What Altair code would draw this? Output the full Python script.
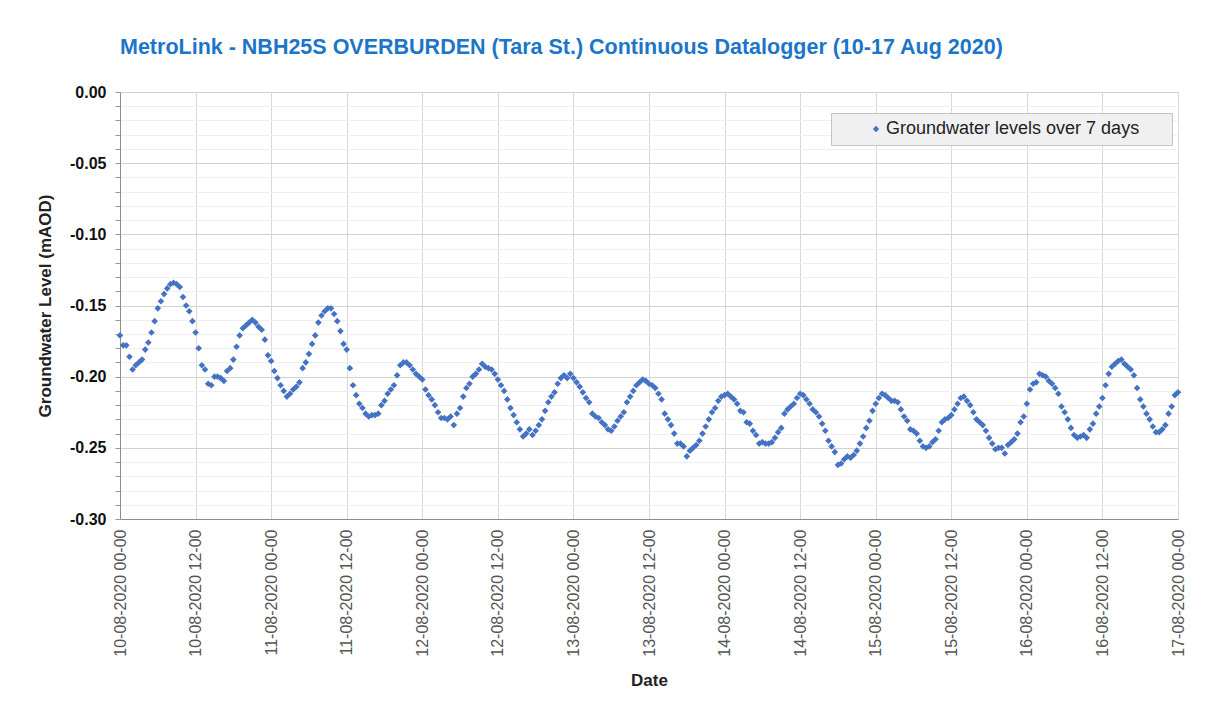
import altair as alt
import pandas as pd

TITLE = "MetroLink - NBH25S OVERBURDEN (Tara St.) Continuous Datalogger (10-17 Aug 2020)"
SERIES = "Groundwater levels over 7 days"

# Groundwater level (mAOD), one reading every 30 minutes
day1 = [-0.171, -0.178, -0.178, -0.186, -0.195, -0.192, -0.190, -0.188, -0.181, -0.176,
        -0.169, -0.161, -0.152, -0.147, -0.142, -0.138, -0.135, -0.134, -0.135, -0.137,
        -0.144, -0.150, -0.154, -0.161, -0.169, -0.180, -0.192, -0.195, -0.205, -0.206,
        -0.200, -0.200, -0.201, -0.203, -0.196, -0.194, -0.188, -0.179, -0.171, -0.166,
        -0.164, -0.162, -0.160, -0.162, -0.165, -0.167, -0.174, -0.185]
day2 = [-0.189, -0.196, -0.201, -0.206, -0.210, -0.214, -0.212, -0.209, -0.207, -0.204,
        -0.194, -0.190, -0.184, -0.177, -0.171, -0.162, -0.157, -0.154, -0.152, -0.152,
        -0.156, -0.161, -0.168, -0.177, -0.181, -0.194, -0.206, -0.213, -0.219, -0.222,
        -0.226, -0.228, -0.227, -0.227, -0.226, -0.220, -0.217, -0.212, -0.209, -0.206,
        -0.199, -0.192, -0.190, -0.190, -0.192, -0.195, -0.198, -0.200]
day3 = [-0.202, -0.209, -0.213, -0.216, -0.220, -0.225, -0.229, -0.229, -0.230, -0.228,
        -0.234, -0.226, -0.222, -0.214, -0.208, -0.205, -0.200, -0.198, -0.195, -0.191,
        -0.193, -0.194, -0.195, -0.198, -0.202, -0.206, -0.210, -0.216, -0.222, -0.227,
        -0.232, -0.237, -0.242, -0.240, -0.237, -0.241, -0.238, -0.234, -0.230, -0.224,
        -0.218, -0.214, -0.211, -0.205, -0.201, -0.199, -0.201, -0.198]
day4 = [-0.201, -0.204, -0.207, -0.211, -0.215, -0.218, -0.226, -0.228, -0.229, -0.232,
        -0.234, -0.237, -0.238, -0.235, -0.231, -0.228, -0.225, -0.218, -0.214, -0.210,
        -0.206, -0.204, -0.202, -0.203, -0.205, -0.206, -0.208, -0.212, -0.216, -0.226,
        -0.230, -0.234, -0.240, -0.247, -0.247, -0.249, -0.256, -0.252, -0.250, -0.248,
        -0.245, -0.240, -0.235, -0.230, -0.225, -0.222, -0.217, -0.214]
day5 = [-0.213, -0.212, -0.214, -0.216, -0.219, -0.224, -0.225, -0.232, -0.233, -0.238,
        -0.241, -0.247, -0.246, -0.247, -0.247, -0.246, -0.243, -0.239, -0.236, -0.226,
        -0.223, -0.221, -0.219, -0.215, -0.212, -0.213, -0.216, -0.219, -0.223, -0.225,
        -0.228, -0.233, -0.238, -0.245, -0.249, -0.253, -0.262, -0.261, -0.258, -0.256,
        -0.257, -0.255, -0.252, -0.247, -0.242, -0.236, -0.231, -0.224]
day6 = [-0.219, -0.215, -0.212, -0.213, -0.215, -0.217, -0.217, -0.218, -0.223, -0.228,
        -0.231, -0.237, -0.238, -0.240, -0.245, -0.249, -0.250, -0.249, -0.246, -0.244,
        -0.238, -0.232, -0.230, -0.229, -0.227, -0.223, -0.219, -0.215, -0.214, -0.217,
        -0.220, -0.225, -0.230, -0.232, -0.234, -0.238, -0.243, -0.247, -0.251, -0.250,
        -0.250, -0.254, -0.248, -0.246, -0.244, -0.240, -0.232, -0.228]
day7 = [-0.219, -0.209, -0.205, -0.204, -0.198, -0.199, -0.200, -0.203, -0.205, -0.208,
        -0.212, -0.221, -0.225, -0.230, -0.236, -0.241, -0.243, -0.242, -0.241, -0.243,
        -0.237, -0.233, -0.226, -0.221, -0.215, -0.206, -0.198, -0.193, -0.191, -0.189,
        -0.188, -0.191, -0.193, -0.195, -0.199, -0.208, -0.216, -0.221, -0.226, -0.230,
        -0.235, -0.239, -0.239, -0.237, -0.234, -0.226, -0.221, -0.213]
last = [-0.211]

levels = day1 + day2 + day3 + day4 + day5 + day6 + day7 + last
times = pd.date_range("2020-08-10 00:00", periods=len(levels), freq="30min").strftime("%Y-%m-%dT%H:%M:%S")
df = pd.DataFrame({"time": list(times), "level": levels, "series": SERIES})

tick_dates = [alt.DateTime(year=2020, month=8, date=10 + h // 24, hours=h % 24) for h in range(0, 169, 12)]
y_ticks = [round(-0.30 + 0.01 * k, 2) for k in range(31)]
major = "abs(round(datum.value*100)) % 5 == 0"

chart = alt.Chart(df).mark_point(shape="diamond", filled=True, size=44, opacity=1, strokeWidth=0).encode(
    x=alt.X(
        "time:T",
        scale=alt.Scale(domain=[alt.DateTime(year=2020, month=8, date=10),
                                alt.DateTime(year=2020, month=8, date=17)], nice=False),
        axis=alt.Axis(
            title="Date", values=tick_dates, format="%d-%m-%Y %H-%M", labelAngle=270,
            labelFontSize=16, labelFont="Liberation Sans", labelColor="#555555",
            labelPadding=10, ticks=False, domainColor="#8c8c8c", gridColor="#d9d9d9",
            labelOverlap=False, labelFlush=False, labelBound=False,
            titleFont="Liberation Sans", titleFontSize=17, titleFontWeight="bold",
            titleColor="#222222", titlePadding=16,
        ),
    ),
    y=alt.Y(
        "level:Q",
        scale=alt.Scale(domain=[-0.30, 0.0], nice=False, zero=False),
        axis=alt.Axis(
            title="Groundwater Level (mAOD)", values=y_ticks,
            labelExpr=f"{major} ? (datum.value < -0.0001 ? '-' : '') + format(abs(datum.value), '.2f') : ''",
            gridColor={"condition": {"test": major, "value": "#d2d2d2"}, "value": "#efefef"},
            labelFont="Liberation Sans", labelFontSize=16, labelFontWeight="bold", labelColor="#111111",
            labelPadding=9, tickSize=5, tickColor="#999999", domainColor="#8c8c8c",
            labelOverlap=False, labelFlush=False, labelBound=False,
            titleFont="Liberation Sans", titleFontSize=17, titleFontWeight="bold",
            titleColor="#222222", titlePadding=15,
        ),
    ),
    color=alt.Color(
        "series:N",
        scale=alt.Scale(range=["#4472C4"]),
        legend=alt.Legend(
            title="MM", titleOrient="right", titleOpacity=0, titleFontSize=14,
            titlePadding=2, titleFont="Liberation Sans",
            orient="none", legendX=711, legendY=21,
            fillColor="#f0f0f0", strokeColor="#c4c4c4", padding=7, cornerRadius=0,
            symbolType="diamond", symbolSize=40, symbolStrokeWidth=0,
            symbolOffset=29, labelOffset=1, labelLimit=400,
            labelFont="Liberation Sans", labelFontSize=18, labelColor="#222222",
        ),
    ),
).properties(
    width=1058,
    height=427,
    autosize=alt.AutoSizeParams(type="none"),
    padding={"left": 112, "top": 84, "right": 20, "bottom": 180},
    title=alt.TitleParams(
        text=TITLE, anchor="start", frame="group", font="Liberation Sans",
        fontSize=21.5, fontWeight="bold", color="#1c75c8", offset=26,
    ),
).configure_view(stroke="#8c8c8c", strokeWidth=1).configure(background="white")

chart.save("out.html", embed_options={"renderer": "svg", "actions": False})
